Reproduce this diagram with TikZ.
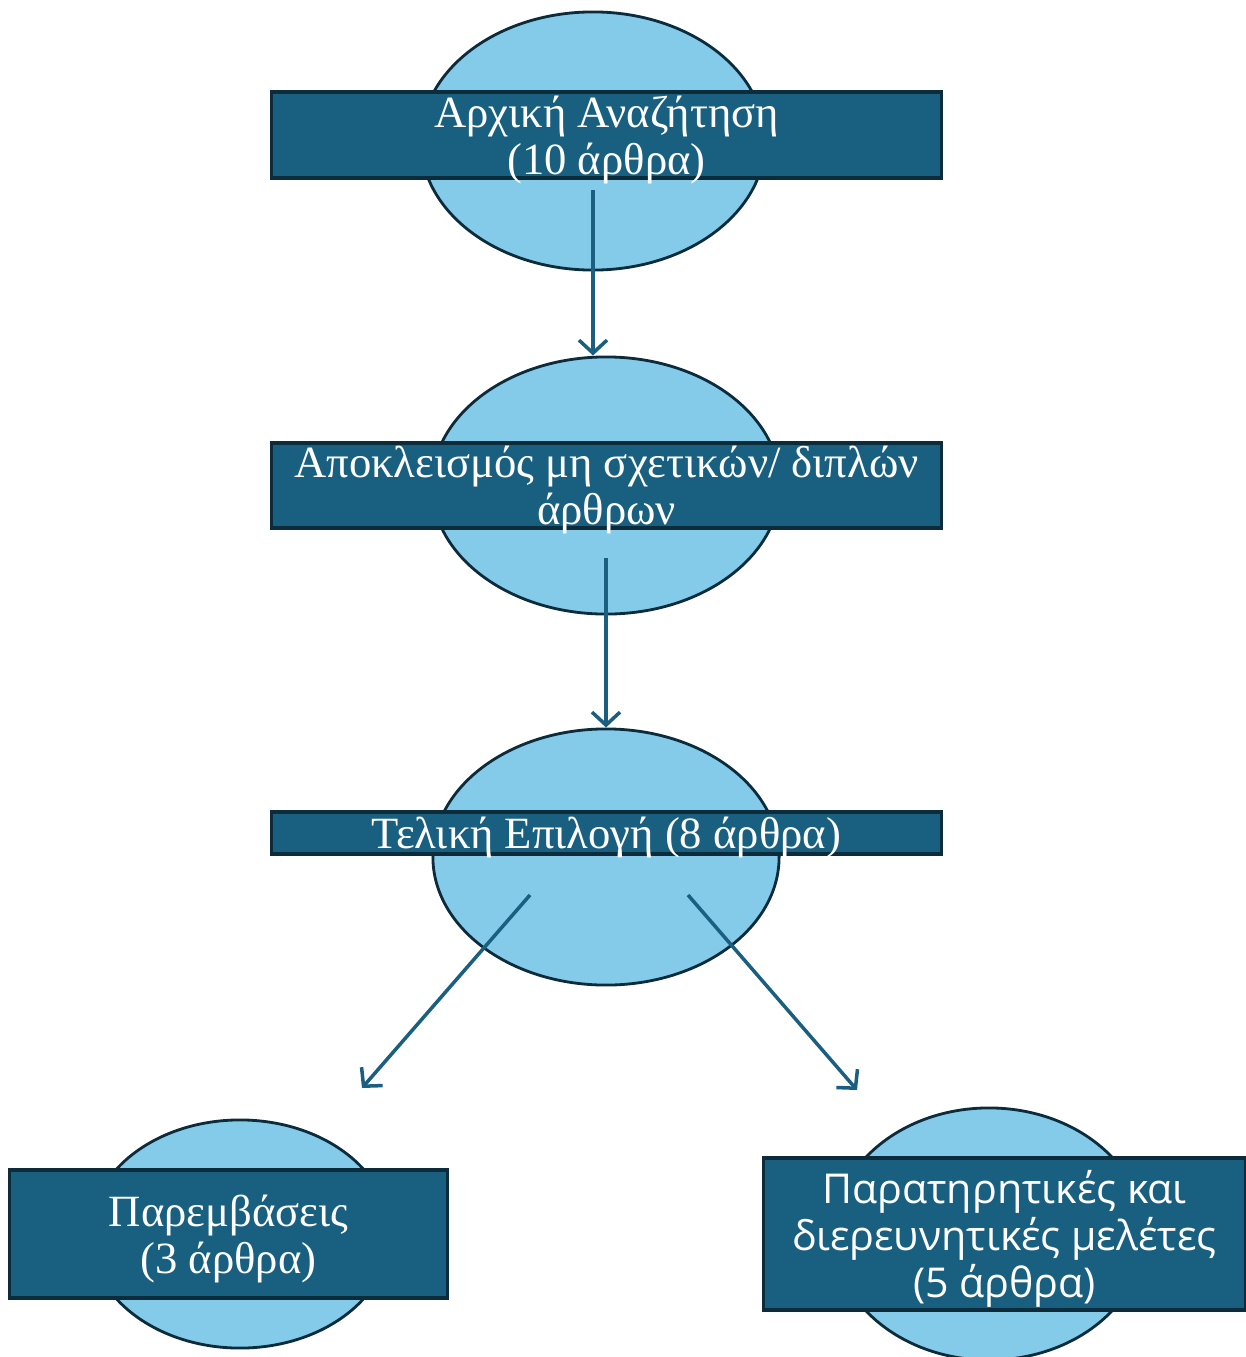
\documentclass[tikz,border=0pt]{standalone}
\usepackage{fontspec}
\setmainfont{Liberation Serif}
\newfontfamily\grsans{Open Sans}
\usetikzlibrary{shapes.geometric,arrows.meta}

\definecolor{barblue}{HTML}{185F80}
\definecolor{edgedark}{HTML}{0C2B3B}
\definecolor{ovalblue}{HTML}{84CBEA}
\definecolor{linkblue}{HTML}{1B5F80}

\tikzset{
  oval/.style={ellipse, draw=edgedark, fill=ovalblue, line width=0.8pt, inner sep=0pt},
  bar/.style={rectangle, draw=edgedark, fill=barblue, line width=0.9pt, text=white,
    align=center, inner sep=0pt, text depth=0pt, font=\fontsize{12.7}{13.4}\selectfont},
  link/.style={draw=linkblue, line width=1pt, -{Straight Barb[length=1.3mm,width=2.8mm]}}
}

\begin{document}
\begin{tikzpicture}[x=0.01cm,y=-0.01cm]
\useasboundingbox (0,0) rectangle (1246,1357);

\node[oval, minimum width=3.44cm, minimum height=2.58cm] (o1) at (593,141) {};
\node[bar, minimum width=6.69cm, minimum height=0.86cm] (b1) at (606.5,135) {Αρχική Αναζήτηση\\(10 άρθρα)};

\node[oval, minimum width=3.48cm, minimum height=2.57cm] (o2) at (606,485.5) {};
\node[bar, minimum width=6.69cm, minimum height=0.85cm] (b2) at (606.5,485.5) {Αποκλεισμός μη σχετικών/ διπλών\\άρθρων};

\node[oval, minimum width=3.46cm, minimum height=2.56cm] (o3) at (606,857) {};
\node[bar, minimum width=6.69cm, minimum height=0.42cm] (b3) at (606.5,833) {Τελική Επιλογή (8 άρθρα)};

\node[oval, minimum width=3.0cm, minimum height=2.28cm] (o4) at (240,1234) {};
\node[bar, minimum width=4.37cm, minimum height=1.28cm] (b4) at (228.5,1234) {Παρεμβάσεις\\(3 άρθρα)};

\node[oval, minimum width=3.1cm, minimum height=2.52cm] (o5) at (989,1234) {};
\node[bar, minimum width=4.81cm, minimum height=1.52cm, font=\grsans\fontsize{11.7}{13.4}\selectfont] (b5) at (1004.5,1234)
  {Παρατηρητικές και\\διερευνητικές μελέτες\\(5 άρθρα)};

\coordinate (s1) at (593,190);
\coordinate (s2) at (606,558);
\coordinate (s3) at (530,895);
\coordinate (t3) at (362,1088);
\coordinate (s4) at (688,895);
\coordinate (t4) at (857,1090);

\draw[link] (s1) -- (s1 |- o2.north);
\draw[link] (s2) -- (s2 |- o3.north);
\draw[link] (s3) -- (t3);
\draw[link] (s4) -- (t4);
\end{tikzpicture}
\end{document}
